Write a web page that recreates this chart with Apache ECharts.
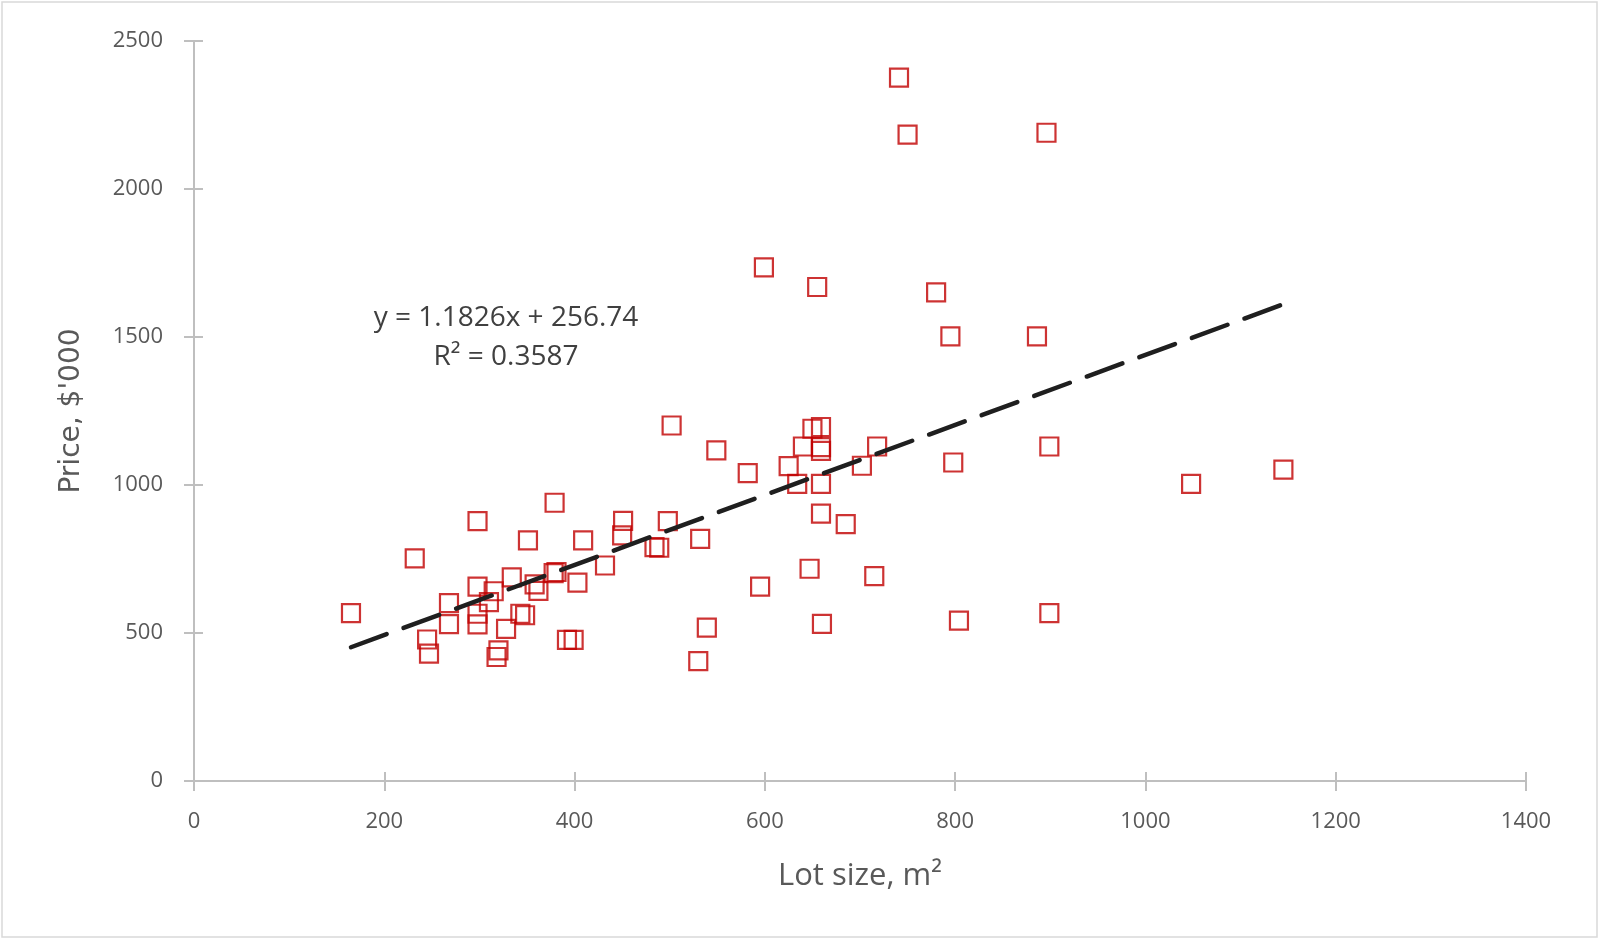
<!DOCTYPE html>
<html>
<head>
<meta charset="utf-8">
<title>Price vs lot size</title>
<script src="https://cdn.jsdelivr.net/npm/echarts@6/dist/echarts.min.js"></script>
<style>
  html, body { margin: 0; padding: 0; background: #fff; }
  #main { width: 1600px; height: 940px; }
</style>
</head>
<body>
<div id="main"></div>
<script>
// lot size (m2) and price ($'000)
var lotSize = [165, 232, 245, 247, 268, 268, 298, 298, 298, 298,
    310, 315, 320, 318, 328, 334, 343, 348, 351, 358,
    362, 379, 378, 381, 392, 399, 403, 409, 432, 450,
    451, 484, 489, 498, 502, 532, 530, 539, 549, 582,
    595, 599, 625, 634, 640, 647, 650, 655, 659, 659,
    659, 659, 659, 660, 685, 702, 715, 718, 741, 750,
    780, 795, 798, 804, 886, 896, 899, 899, 1048, 1145];
var price = [567, 752, 478, 430, 601, 530, 878, 657, 565, 529,
    604, 641, 441, 419, 514, 688, 565, 560, 813, 664,
    642, 940, 702, 706, 477, 477, 670, 813, 728, 830,
    879, 790, 788, 878, 1201, 818, 405, 518, 1117, 1040,
    657, 1735, 1064, 1004, 1130, 717, 1190, 1669, 1196, 1128,
    1115, 1004, 903, 531, 868, 1065, 692, 1130, 2376, 2184,
    1651, 1502, 1076, 542, 1502, 2190, 1130, 567, 1004, 1052];

// linear trendline from the equation on the chart
var trendCoef = [1.1826, 256.74];   // slope, intercept
var trendLabel = ['y = 1.1826x + 256.74', 'R\u00b2 = 0.3587'];

var xTicks = [0, 200, 400, 600, 800, 1000, 1200, 1400];
var yTicks = [0, 500, 1000, 1500, 2000, 2500];

var points = [];
for (var i = 0; i < lotSize.length; i++) {
    points.push([lotSize[i], price[i]]);
}
var xMin = Math.min.apply(null, lotSize);
var xMax = Math.max.apply(null, lotSize);
var trend = [
    [xMin, trendCoef[0] * xMin + trendCoef[1]],
    [xMax, trendCoef[0] * xMax + trendCoef[1]]
];

var axisGrey = '#BFBFBF';
var textGrey = '#595959';
var font = '"Open Sans", "Liberation Sans", sans-serif';

function plain(v) { return String(v); }   // no thousands separator

var myChart = echarts.init(document.getElementById('main'), null, { renderer: 'canvas' });

var option = {
    backgroundColor: '#fff',
    animation: false,
    grid: { left: 194, right: 74, top: 41, bottom: 159 },
    xAxis: [
        {
            type: 'value',
            min: xTicks[0], max: xTicks[xTicks.length - 1], interval: 200,
            name: 'Lot size, m\u00b2',
            nameLocation: 'middle',
            nameGap: 80,
            nameTextStyle: { color: textGrey, fontSize: 31, fontFamily: font },
            axisLine: { show: true, lineStyle: { color: axisGrey, width: 2 } },
            axisTick: { show: true, length: 10, lineStyle: { color: axisGrey, width: 2 } },
            axisLabel: { color: textGrey, fontSize: 22, fontFamily: font, margin: 30, formatter: plain },
            splitLine: { show: false }
        },
        {
            // second copy so the ticks cross the axis line
            type: 'value',
            min: xTicks[0], max: xTicks[xTicks.length - 1], interval: 200,
            position: 'bottom',
            axisLine: { show: false },
            axisTick: { show: true, inside: true, length: 9, lineStyle: { color: axisGrey, width: 2 } },
            axisLabel: { show: false },
            splitLine: { show: false }
        }
    ],
    yAxis: [
        {
            type: 'value',
            min: yTicks[0], max: yTicks[yTicks.length - 1], interval: 500,
            name: "Price, $'000",
            nameLocation: 'middle',
            nameGap: 108,
            nameTextStyle: { color: textGrey, fontSize: 28, fontFamily: '"DejaVu Sans", sans-serif' },
            axisLine: { show: true, lineStyle: { color: axisGrey, width: 2 } },
            axisTick: { show: true, length: 10, lineStyle: { color: axisGrey, width: 2 } },
            axisLabel: { color: textGrey, fontSize: 22, fontFamily: font, margin: 31, formatter: plain },
            splitLine: { show: false }
        },
        {
            type: 'value',
            min: yTicks[0], max: yTicks[yTicks.length - 1], interval: 500,
            position: 'left',
            axisLine: { show: false },
            axisTick: { show: true, inside: true, length: 9, lineStyle: { color: axisGrey, width: 2 } },
            axisLabel: { show: false },
            splitLine: { show: false }
        }
    ],
    graphic: [
        {
            type: 'rect',
            silent: true,
            shape: { x: 2, y: 2, width: 1595, height: 935 },
            style: { fill: 'none', stroke: '#D9D9D9', lineWidth: 1.5 }
        },
        {
            type: 'text',
            silent: true,
            x: 506, y: 299,
            style: {
                text: trendLabel[0] + '\n' + trendLabel[1],
                align: 'center',
                fill: '#404040',
                font: '28px ' + font,
                lineHeight: 39
            }
        }
    ],
    series: [
        {
            name: 'Trend',
            type: 'line',
            data: trend,
            symbol: 'none',
            z: 3,
            lineStyle: { color: '#1F1F1F', width: 4.5, type: [38, 18], cap: 'round' }
        },
        {
            name: 'Price',
            type: 'scatter',
            data: points,
            symbol: 'rect',
            symbolSize: 18,
            z: 2,
            itemStyle: { color: 'rgba(0,0,0,0)', borderColor: '#C00000', borderWidth: 2.2 }
        }
    ]
};
myChart.setOption(option);
</script>
</body>
</html>
